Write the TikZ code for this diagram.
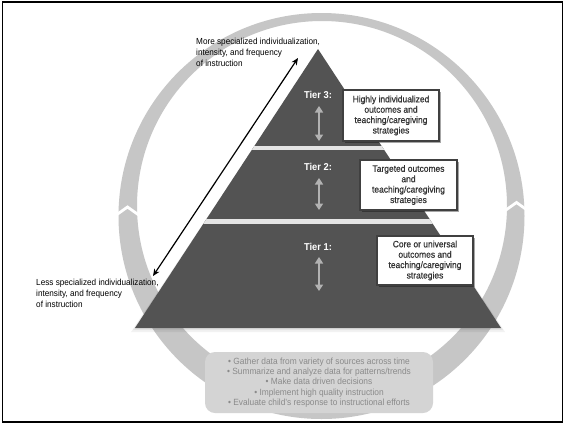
\documentclass[tikz,border=0pt]{standalone}
\usepackage{fontspec}
\setmainfont{Liberation Sans}[FakeStretch=0.93]
\newfontfamily\boxfont{Liberation Sans}[FakeStretch=0.92, FakeBold=0.6]
\usetikzlibrary{arrows.meta,shadows}
\definecolor{ringgray}{HTML}{C6C6C6}
\definecolor{boxgray}{HTML}{D4D4D4}
\definecolor{boxtext}{HTML}{8A8A8A}
\definecolor{pyr}{HTML}{535353}
\definecolor{band}{HTML}{E4E4E4}
\definecolor{tierborder}{HTML}{404040}
\definecolor{tiertext}{HTML}{333333}
\definecolor{tarrowgray}{HTML}{B2B2B2}
\tikzset{
  tierbox/.style={draw=tierborder, line width=1.2pt, fill=white, inner sep=0pt,
    align=center, text=tiertext, font=\boxfont\fontsize{9.2}{10.4}\selectfont,
    drop shadow={shadow xshift=2pt, shadow yshift=-2pt, fill=black, opacity=0.35}},
  tierlabel/.style={text=white, font=\fontsize{10}{12}\selectfont\bfseries, inner sep=0pt},
  tarrow/.style={draw=tarrowgray, line width=2.6pt,
    {Triangle[length=6.5pt,width=8pt]}-{Triangle[length=6.5pt,width=8pt]}},
  sidetext/.style={align=left, inner sep=0pt, font=\fontsize{8.8}{11}\selectfont, anchor=north west},
  notch/.style={white, line width=2.8pt},
}
\begin{document}
\begin{tikzpicture}[x=1pt,y=-1pt]
\useasboundingbox (0,0) rectangle (565,424);
\fill[white] (0,0) rectangle (565,424);
% ring
\fill[ringgray,even odd rule] (321.5,216) circle[radius=203pt] (322,206) circle[radius=185pt];
\draw[notch] (112,218) -- (127.5,207) -- (143,218);
\draw[notch] (501,213.5) -- (516.5,202.5) -- (532,213.5);
% pyramid shadow
\fill[black,opacity=0.05] (318,51) -- (505,332) -- (131,332) -- cycle;
\fill[black,opacity=0.06] (318,50) -- (503,330) -- (133,330) -- cycle;
% pyramid
\fill[pyr] (318,49) -- (501,328) -- (135,328) -- cycle;
\begin{scope}
  \clip (318,49) -- (501,328) -- (135,328) -- cycle;
  \fill[band] (100,146) rectangle (540,150);
  \fill[band] (100,219) rectangle (540,224);
\end{scope}
% double arrow along side
\coordinate (lowend) at (153,276);
\coordinate (highend) at (298,58);
\draw[line width=1.2pt, {Stealth[length=7pt,width=6pt]}-{Stealth[length=7pt,width=6pt]}] (lowend) -- (highend);
% side texts
\node[sidetext] (more) at (196,38.3) {More specialized individualization,\\intensity, and frequency\\of instruction};
\node[sidetext] (less) at (36,279.3) {Less specialized individualization,\\intensity, and frequency\\of instruction};
% tier labels and arrows
\node[tierlabel] (t3) at (318,95) {Tier 3:};
\node[tierlabel] (t2) at (318,167) {Tier 2:};
\node[tierlabel] (t1) at (318,247) {Tier 1:};
\coordinate (a3t) at (319,106); \coordinate (a3b) at (319,141);
\coordinate (a2t) at (319,178); \coordinate (a2b) at (319,210);
\coordinate (a1t) at (319,257); \coordinate (a1b) at (319,291);
\draw[tarrow] (a3t) -- (a3b);
\draw[tarrow] (a2t) -- (a2b);
\draw[tarrow] (a1t) -- (a1b);
% tier boxes
\node[tierbox, minimum width=96pt, minimum height=51pt] (b3) at (391,115.5)
  {Highly individualized\\outcomes and\\teaching/caregiving\\strategies};
\node[tierbox, minimum width=97pt, minimum height=50pt] (b2) at (408.5,185)
  {Targeted outcomes\\and\\teaching/caregiving\\strategies};
\node[tierbox, minimum width=96pt, minimum height=49pt] (b1) at (425,260.5)
  {Core or universal\\outcomes and\\teaching/caregiving\\strategies};
% bottom box
\node[fill=boxgray, rounded corners=10pt, minimum width=228pt, minimum height=61pt,
  inner sep=0pt, align=center, text=boxtext, font=\fontsize{9}{10.4}\selectfont] (cycle) at (319,382.5)
  {• Gather data from variety of sources across time\\
   • Summarize and analyze data for patterns/trends\\
   • Make data driven decisions\\
   • Implement high quality instruction\\
   • Evaluate child’s response to instructional efforts};
% frame
\draw[line width=1.4pt] (2.5,1.8) rectangle (562.5,422);
\end{tikzpicture}
\end{document}
